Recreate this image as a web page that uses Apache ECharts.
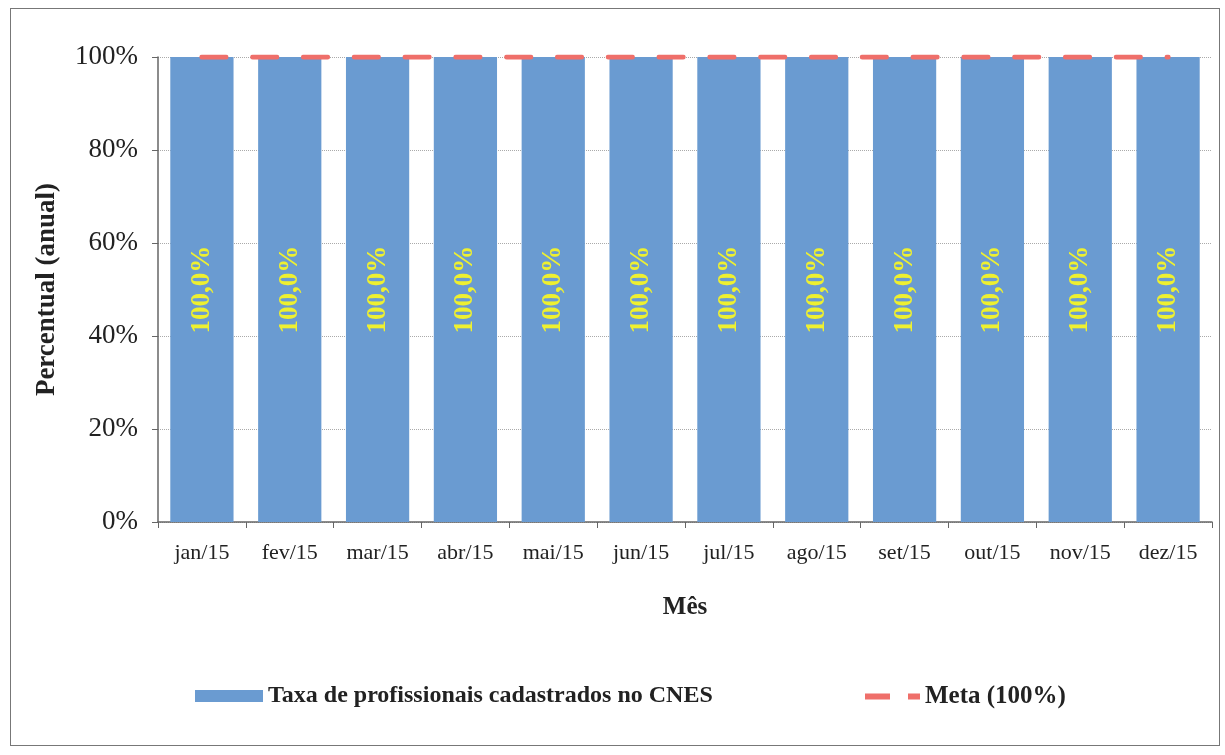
<!DOCTYPE html>
<html>
<head>
<meta charset="utf-8">
<script src="https://cdn.jsdelivr.net/npm/echarts@6/dist/echarts.min.js"></script>
<style>
  html, body { margin: 0; padding: 0; background: #fff; }
  #chart { width: 1225px; height: 755px; }
  #frame { position: absolute; left: 10px; top: 8px; width: 1208px; height: 736px; border: 1px solid #777; pointer-events: none; }
</style>
</head>
<body>
<div id="chart"></div>
<div id="frame"></div>
<script>
// dados
const meses = ["jan/15", "fev/15", "mar/15", "abr/15", "mai/15", "jun/15", "jul/15", "ago/15", "set/15", "out/15", "nov/15", "dez/15"];
const taxaCnes = [100, 100, 100, 100, 100, 100, 100, 100, 100, 100, 100, 100];
const meta = [100, 100, 100, 100, 100, 100, 100, 100, 100, 100, 100, 100];

const serif = "Liberation Serif";
const chart = echarts.init(document.getElementById("chart"));

chart.setOption({
  animation: false,
  grid: { left: 158, right: 13, top: 57, bottom: 233 },
  legend: [
    {
      data: ["Taxa de profissionais cadastrados no CNES"],
      left: 190, top: 679,
      icon: "rect", itemWidth: 68, itemHeight: 12, itemGap: 4,
      textStyle: { fontFamily: serif, fontSize: 24, fontWeight: "bold", color: "#222" }
    },
    {
      data: ["Meta (100%)"],
      left: 860, top: 679,
      icon: "path://M0,0h25v6h-25z M43,0h12v6h-12z",
      itemWidth: 55, itemHeight: 6, itemGap: 3,
      textStyle: { fontFamily: serif, fontSize: 25, fontWeight: "bold", color: "#222" }
    }
  ],
  xAxis: {
    type: "category",
    data: meses,
    name: "Mês",
    nameLocation: "middle",
    nameGap: 73,
    nameTextStyle: { fontFamily: serif, fontSize: 25, fontWeight: "bold", color: "#222" },
    axisLine: { lineStyle: { color: "#666", width: 1.5 } },
    axisTick: { show: true, length: 6, lineStyle: { color: "#666" } },
    axisLabel: { fontFamily: serif, fontSize: 22, color: "#222", margin: 20 }
  },
  yAxis: {
    type: "value",
    min: 0, max: 100, interval: 20,
    name: "Percentual (anual)",
    nameLocation: "middle",
    nameGap: 97,
    nameTextStyle: { fontFamily: serif, fontSize: 27, fontWeight: "bold", color: "#222" },
    axisLine: { show: true, lineStyle: { color: "#666", width: 1.5 } },
    axisTick: { show: true, length: 6, lineStyle: { color: "#666" } },
    axisLabel: { fontFamily: serif, fontSize: 27, color: "#222", margin: 20, formatter: "{value}%" },
    splitLine: { lineStyle: { color: "#aaa", type: "dotted" } }
  },
  series: [
    {
      name: "Taxa de profissionais cadastrados no CNES",
      type: "bar",
      data: taxaCnes,
      barWidth: "72%",
      itemStyle: { color: "#6a9bd1" },
      label: {
        show: true,
        position: "inside",
        rotate: 90,
        formatter: p => p.value.toFixed(1).replace(".", ",") + "%",
        fontFamily: serif, fontSize: 27, fontWeight: "bold", color: "#eef030"
      }
    },
    {
      name: "Meta (100%)",
      type: "line",
      data: meta,
      symbol: "none",
      z: 5,
      lineStyle: { color: "#ef6f6a", width: 5, type: [24, 26.8], cap: "round" },
      itemStyle: { color: "#ef6f6a" }
    }
  ]
});
</script>
</body>
</html>
